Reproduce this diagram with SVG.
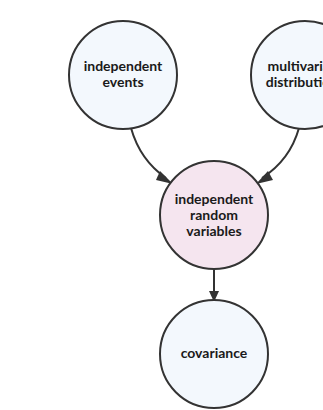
<svg xmlns="http://www.w3.org/2000/svg" width="323" height="410" viewBox="0 0 323 410">
  <style>
    .node { stroke: #333; stroke-width: 2; }
    .blue { fill: #f3f8fd; }
    .pink { fill: #f5e5ef; }
    .label { font-family: Lato, "Liberation Sans", sans-serif; font-weight: bold; font-size: 14px; fill: #1a1a1a; text-anchor: middle; }
    .edge { fill: none; stroke: #333; stroke-width: 2; }
    .head { fill: #333; }
  </style>
  <rect width="323" height="410" fill="#fff"/>
  <g id="edges">
    <path class="edge" d="M131,128 Q140,160 166,178"/>
    <path class="head" d="M160,171 L173,184 L156,180 z"/>
    <path class="edge" d="M299,128 Q290,160 262,178"/>
    <path class="head" d="M268,171 L256,184 L273,180 z"/>
    <path class="edge" d="M214,269 L214,294"/>
    <path class="head" d="M209,291 L214,302 L219,291 z"/>
  </g>
  <g id="independent-events">
    <circle class="node blue" cx="123" cy="75" r="54"/>
    <text class="label" x="123" y="71">independent</text>
    <text class="label" x="123" y="87">events</text>
  </g>
  <g id="multivariate-distributions">
    <circle class="node blue" cx="305" cy="75" r="54"/>
    <text class="label" x="305" y="71">multivariate</text>
    <text class="label" x="305" y="87">distributions</text>
  </g>
  <g id="independent-random-variables">
    <circle class="node pink" cx="214" cy="215" r="54"/>
    <text class="label" x="214" y="204">independent</text>
    <text class="label" x="214" y="220">random</text>
    <text class="label" x="214" y="236">variables</text>
  </g>
  <g id="covariance">
    <circle class="node blue" cx="214" cy="354" r="54"/>
    <text class="label" x="214" y="358">covariance</text>
  </g>
</svg>
